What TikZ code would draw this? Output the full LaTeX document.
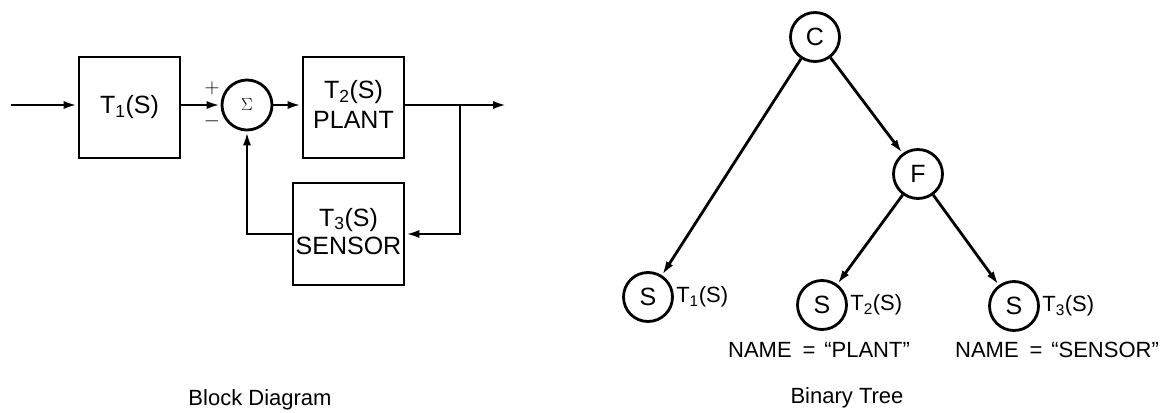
\documentclass[tikz,border=0pt]{standalone}
\usepackage{fontspec}
\setmainfont{Liberation Sans}
\usetikzlibrary{arrows.meta}
\tikzset{
  blk/.style={draw, minimum width=101pt, minimum height=101pt, inner sep=0pt, align=center, font=\fontsize{25}{31}\selectfont},
  sumc/.style={draw, circle, minimum size=50pt, inner sep=0pt},
  tc/.style={draw, circle, minimum size=49pt, inner sep=0pt, font=\fontsize{25}{25}\selectfont},
  lbl/.style={inner sep=0pt, font=\fontsize{22}{22}\selectfont},
  captxt/.style={inner sep=0pt, font=\fontsize{22}{22}\selectfont},
  sgn/.style={inner sep=0pt, font=\fontsize{20}{20}\selectfont},
  arr/.style={-{Latex[length=14pt,width=8pt]}},
}
\begin{document}
\begin{tikzpicture}[x=1pt,y=-1pt,line width=2.8pt]
\useasboundingbox (0,0) rectangle (1174,412);
% block diagram
\node[blk] (t1) at (129.5,107.5) {T\textsubscript{1}(S)};
\node[sumc] (sum) at (247,105) {\fontsize{19}{19}\selectfont$\Sigma$};
\node[blk] (t2) at (353.5,107.5) {\raisebox{-5pt}{\begin{tabular}{@{}c@{}}T\textsubscript{2}(S)\\[-1pt]PLANT\end{tabular}}};
\node[blk, minimum width=111pt, minimum height=102pt] (t3) at (348.5,234) {\raisebox{-4pt}{\begin{tabular}{@{}c@{}}T\textsubscript{3}(S)\\[-3pt]SENSOR\end{tabular}}};
\node[sgn] (plus) at (212,88) {$+$};
\node[sgn] (minus) at (212,121) {$-$};
\coordinate (in) at (11,105);
\coordinate (br) at (460,105);
\coordinate (out) at (507,105);
\draw[arr] (in) -- (in -| t1.west);
\draw[arr] (t1.east |- sum) -- (sum.west);
\draw[arr] (sum.east) -- (sum -| t2.west);
\draw[arr] (t2.east |- out) -- (out);
\draw[arr] (br) |- (t3.east);
\draw[arr] (t3.west) -| (sum.south);
\node[captxt] (bd) at (260,400) {Block Diagram};
% binary tree
\node[tc] (c) at (815,37) {C};
\node[tc] (f) at (918,174) {F};
\node[tc] (s1) at (648,297) {S};
\node[tc] (s2) at (822,305) {S};
\node[tc] (s3) at (1014,306) {S};
\node[lbl, anchor=west] (l1) at ([xshift=1pt]s1.east) {T\textsubscript{1}(S)};
\node[lbl, anchor=west] (l2) at ([xshift=1pt]s2.east) {T\textsubscript{2}(S)};
\node[lbl, anchor=west] (l3) at ([xshift=1pt]s3.east) {T\textsubscript{3}(S)};
\node[lbl] (n2) at (819,350) {NAME\hspace{0.5em}=\hspace{0.4em}“PLANT”};
\node[lbl] (n3) at (1057,350) {NAME\hspace{0.5em}=\hspace{0.4em}“SENSOR”};
\draw[arr] (c) -- (s1);
\draw[arr] (c) -- (f);
\draw[arr] (f) -- (s2);
\draw[arr] (f) -- (s3);
\node[captxt] (bt) at (847,398) {Binary Tree};
\end{tikzpicture}
\end{document}
